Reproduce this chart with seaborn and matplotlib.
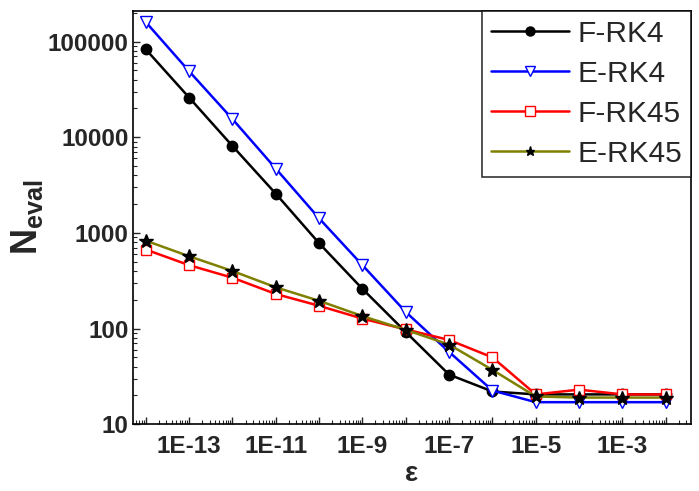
import numpy as np
import pandas as pd
import matplotlib
matplotlib.use('Agg')
import matplotlib.pyplot as plt
import matplotlib.ticker as mticker
import seaborn as sns

# tolerance values (x) and number of evaluations for each method
eps = [1e-14, 1e-13, 1e-12, 1e-11, 1e-10, 1e-9, 1e-8, 1e-7, 1e-6, 1e-5, 1e-4, 1e-3, 1e-2]
f_rk4 = [83000, 26000, 8100, 2570, 780, 260, 92, 33, 22, 20.5, 20.5, 20.5, 20.5]
e_rk4 = [160000, 49000, 15500, 4700, 1420, 460, 149, 57, 22.5, 17, 17, 17, 17]
f_rk45 = [670, 460, 340, 230, 173, 127, 98, 76, 50, 20.5, 23, 20.5, 20.5]
e_rk45 = [830, 570, 400, 270, 195, 135, 97, 68, 37, 19.5, 19, 19, 19]

methods = ['F-RK4', 'E-RK4', 'F-RK45', 'E-RK45']
values = [f_rk4, e_rk4, f_rk45, e_rk45]
x_labels = ['1E-13', '1E-11', '1E-9', '1E-7', '1E-5', '1E-3']

sns.set_style('ticks')
plt.rcParams['font.family'] = ['Liberation Sans', 'DejaVu Sans']
plt.rcParams['mathtext.fontset'] = 'custom'
plt.rcParams['mathtext.rm'] = 'Liberation Sans'
plt.rcParams['mathtext.bf'] = 'Liberation Sans:bold'

df = pd.DataFrame({
    'eps': eps * len(methods),
    'N': sum(values, []),
    'method': np.repeat(methods, len(eps)),
})

styles = {
    'F-RK4': dict(color='black', marker='o', ms=7.5, mfc='black', mec='black'),
    'E-RK4': dict(color='#0000ff', marker='v', ms=8.5, mfc='white', mec='#0000ff'),
    'F-RK45': dict(color='#ff0000', marker='s', ms=7.5, mfc='white', mec='#ff0000'),
    'E-RK45': dict(color='#808000', marker='*', ms=10, mfc='black', mec='black'),
}

fig = plt.figure(figsize=(6.99, 4.91), dpi=100)
ax = fig.add_axes([0.190, 0.136, 0.799, 0.842])

for m in methods:
    st = styles[m]
    sns.lineplot(data=df[df['method'] == m], x='eps', y='N', ax=ax, label=m,
                 color=st['color'], marker=st['marker'], markersize=st['ms'],
                 markerfacecolor=st['mfc'], markeredgecolor=st['mec'],
                 markeredgewidth=1.0, linewidth=1.8)

ax.set_xscale('log')
ax.set_yscale('log')

# labelled decades are major ticks, the other decades are long minor ticks
ax.set_xticks([float(s) for s in x_labels])
ax.set_xticklabels(x_labels)
minor_locs = [s * 10.0 ** k for k in range(-15, -1) for s in range(1, 10)]
minor_locs = [v for v in minor_locs if f'{v:.0E}'.replace('E-0', 'E-') not in x_labels]
ax.set_xticks(minor_locs, minor=True)
ax.xaxis.set_minor_formatter(mticker.NullFormatter())

ax.set_xlim(10 ** -14.3, 10 ** -1.41)
ax.set_ylim(10, 2.1e5)

ax.yaxis.set_major_locator(mticker.LogLocator(base=10, numticks=10))
ax.yaxis.set_minor_locator(mticker.LogLocator(base=10, subs=np.arange(2, 10), numticks=30))
ax.yaxis.set_major_formatter(mticker.FuncFormatter(lambda v, p: f'{int(round(v))}'))
ax.yaxis.set_minor_formatter(mticker.NullFormatter())

ax.tick_params(which='major', direction='in', length=5, width=1, labelsize=17.5, pad=3)
ax.tick_params(axis='x', which='major', pad=8)
ax.tick_params(which='minor', direction='in', length=3, width=0.8)
for lab in ax.get_xticklabels() + ax.get_yticklabels():
    lab.set_fontweight('bold')

for t, loc in zip(ax.xaxis.get_minor_ticks(), ax.xaxis.get_minorticklocs()):
    if abs(np.log10(loc) - round(np.log10(loc))) < 1e-6:
        t.tick1line.set_markersize(5)
        t.tick1line.set_markeredgewidth(1)

for sp in ax.spines.values():
    sp.set_visible(True)
    sp.set_linewidth(1.2)
    sp.set_color('black')

ax.set_xlabel('ε', fontsize=20, fontweight='bold', labelpad=2)
ax.set_ylabel(r'$\mathbf{N_{eval}}$', fontsize=26, labelpad=2)

leg = ax.legend(loc='upper right', fontsize=21.5, frameon=True, fancybox=False,
                borderaxespad=0, handlelength=2.6, labelspacing=0.4,
                handletextpad=0.3, borderpad=0.3)
leg.get_frame().set_edgecolor('black')
leg.get_frame().set_linewidth(1.2)
for h in leg.legend_handles:
    h.set_markersize(6.5)

fig.savefig('out.png', dpi=100)
